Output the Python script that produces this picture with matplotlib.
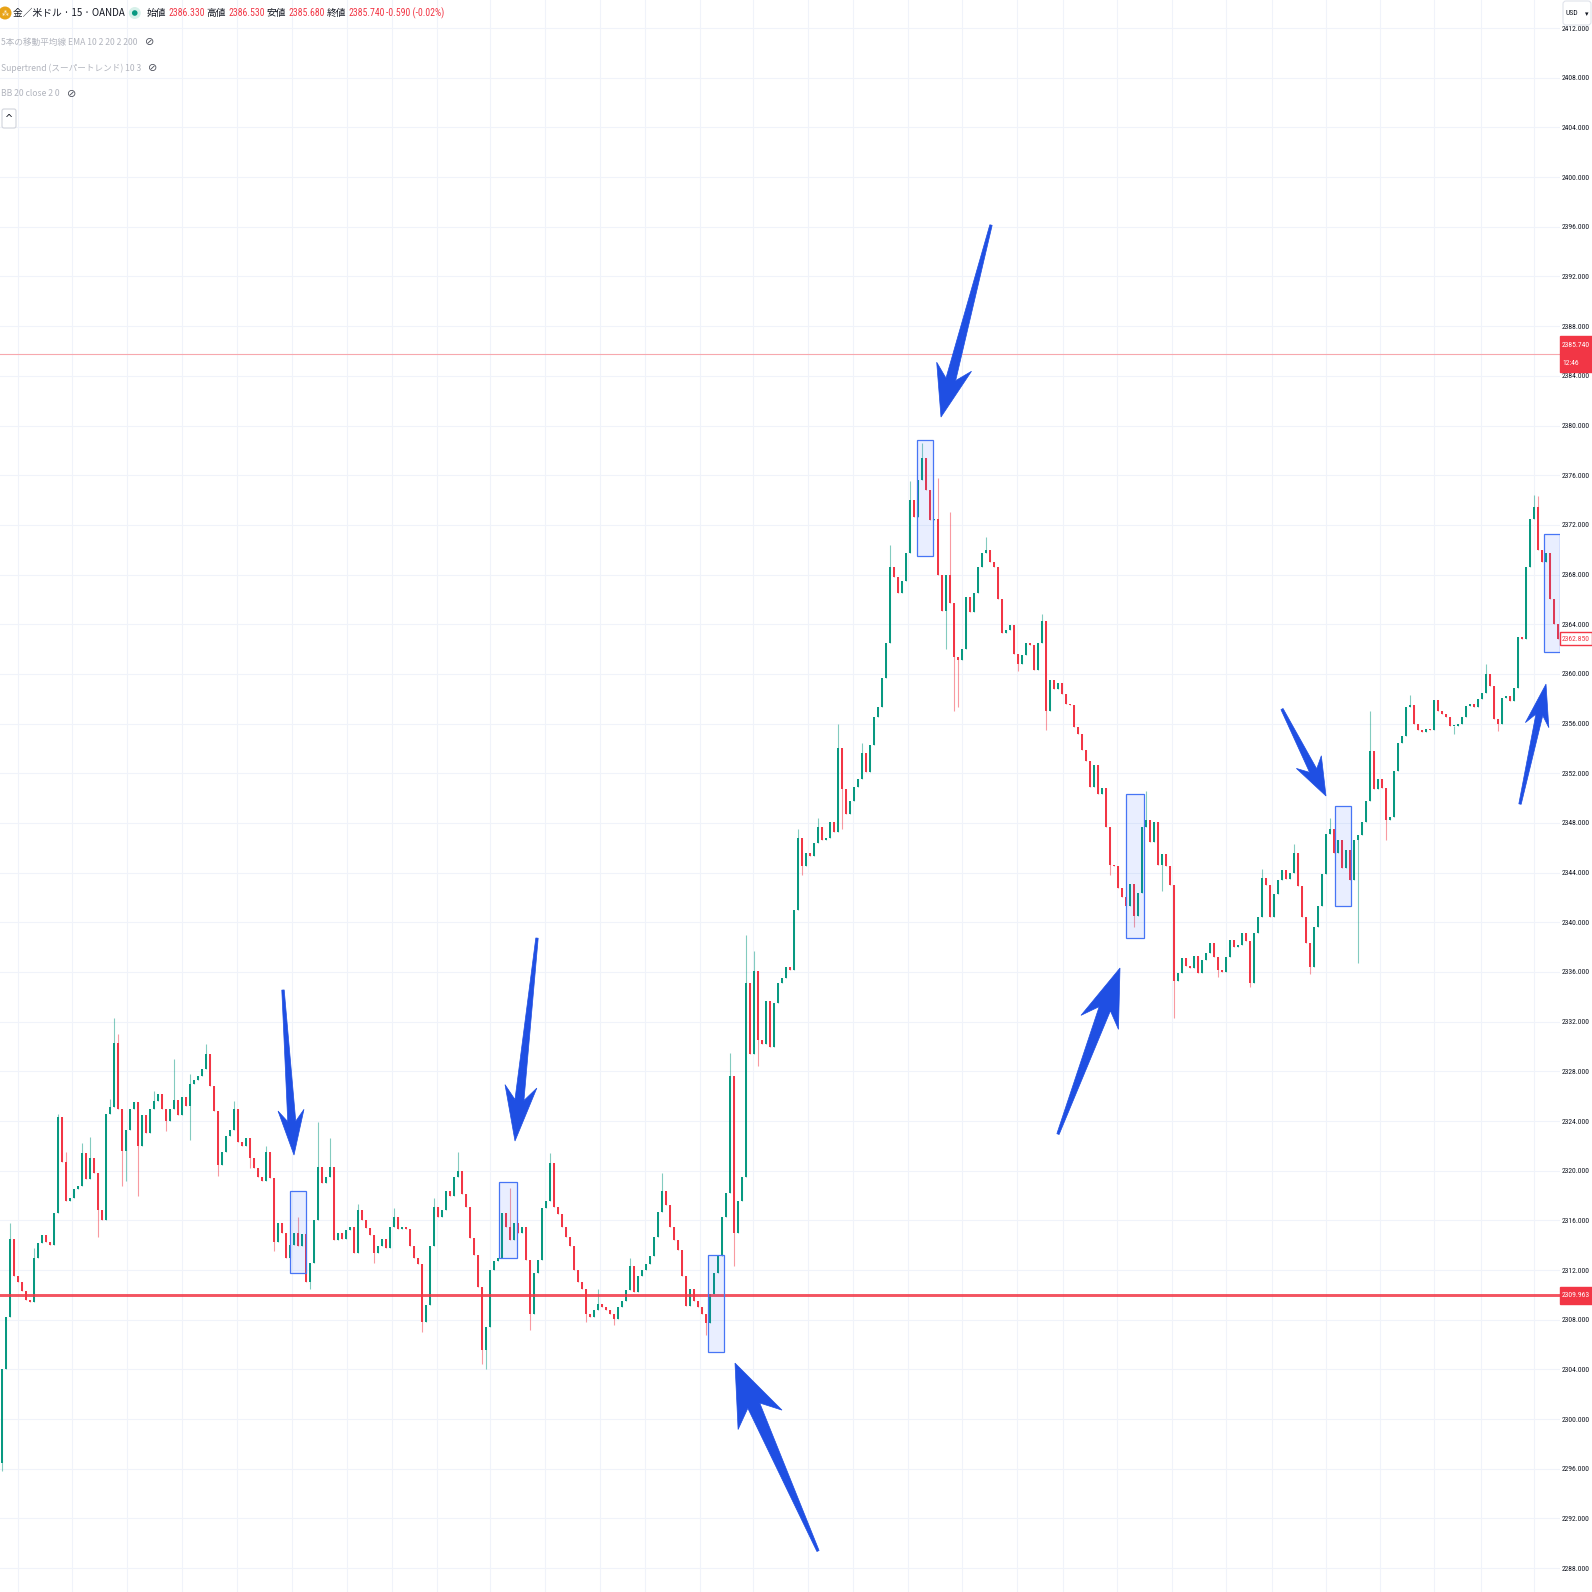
import matplotlib
matplotlib.use("Agg")
import numpy as np
import matplotlib.pyplot as plt
from matplotlib import font_manager
from matplotlib.patches import Rectangle, Polygon, Circle, FancyBboxPatch

# -------------------------------------------------------------------
# DATA (15-minute XAU/USD candles)
# -------------------------------------------------------------------
first_open = 2296.5
closes = [
    2304.0, 2308.2, 2314.5, 2311.5, 2311.0, 2310.3, 2309.6, 2309.4, 2313.0, 2314.2,
    2314.8, 2314.3, 2314.0, 2316.6, 2324.3, 2320.7, 2317.6, 2317.8, 2318.5, 2318.8,
    2321.4, 2319.3, 2321.0, 2319.8, 2316.8, 2316.0, 2324.6, 2325.1, 2330.3, 2325.0,
    2321.6, 2323.3, 2325.0, 2325.5, 2322.0, 2324.5, 2323.0, 2325.0, 2325.6, 2326.2,
    2325.0, 2324.0, 2325.0, 2325.7, 2324.5, 2325.9, 2325.2, 2327.0, 2327.3, 2327.6,
    2328.2, 2329.4, 2326.8, 2324.8, 2320.5, 2321.5, 2322.8, 2323.3, 2325.0, 2322.3,
    2322.0, 2322.6, 2321.0, 2320.2, 2319.5, 2319.2, 2321.5, 2319.4, 2314.3, 2315.8,
    2315.0, 2313.0, 2314.0, 2315.0, 2313.9, 2314.9, 2311.0, 2312.6, 2316.0, 2320.3,
    2319.0, 2319.5, 2320.3, 2314.4, 2315.0, 2314.5, 2315.2, 2315.5, 2313.4, 2316.8,
    2316.0, 2315.4, 2314.8, 2313.4, 2313.9, 2314.5, 2313.8, 2315.5, 2316.3, 2315.3,
    2315.5, 2315.3, 2313.9, 2313.0, 2312.5, 2307.8, 2309.2, 2313.9, 2317.1, 2316.3,
    2316.8, 2318.4, 2318.0, 2319.5, 2320.0, 2318.1, 2317.1, 2314.6, 2313.2, 2310.6,
    2305.6, 2307.4, 2312.0, 2312.7, 2313.0, 2316.6, 2315.5, 2314.4, 2315.8, 2315.0,
    2315.5, 2312.8, 2308.5, 2311.8, 2312.8, 2317.0, 2317.6, 2320.6, 2317.1, 2316.5,
    2315.5, 2314.7, 2313.9, 2312.0, 2311.0, 2310.5, 2308.5, 2308.2, 2308.8, 2309.3,
    2309.0, 2308.8, 2308.5, 2308.1, 2309.0, 2309.5, 2310.4, 2312.3, 2310.2, 2311.5,
    2312.0, 2312.5, 2313.1, 2314.7, 2316.7, 2318.4, 2317.2, 2315.5, 2314.4, 2313.6,
    2311.5, 2309.1, 2310.5, 2309.5, 2309.0, 2308.5, 2307.7, 2310.1, 2311.8, 2313.1,
    2316.3, 2318.2, 2327.6, 2315.0, 2317.6, 2319.5, 2335.1, 2329.4, 2336.1, 2330.5,
    2330.2, 2333.7, 2330.0, 2333.5, 2335.1, 2335.5, 2336.4, 2336.2, 2341.0, 2346.8,
    2344.5, 2345.6, 2345.3, 2346.4, 2347.7, 2346.6, 2346.8, 2348.1, 2347.3, 2354.0,
    2350.7, 2348.7, 2349.8, 2350.9, 2351.5, 2353.6, 2352.1, 2354.3, 2356.5, 2357.3,
    2359.7, 2362.5, 2368.6, 2367.8, 2366.5, 2367.5, 2369.7, 2374.0, 2372.6, 2375.6,
    2377.4, 2374.8, 2372.4, 2372.5, 2368.0, 2365.1, 2368.0, 2365.7, 2361.4, 2361.1,
    2362.0, 2366.2, 2365.0, 2366.5, 2368.6, 2369.7, 2370.0, 2369.0, 2368.6, 2366.0,
    2363.3, 2363.5, 2363.9, 2361.6, 2360.8, 2361.5, 2362.5, 2362.3, 2360.3, 2362.5,
    2364.3, 2357.0, 2359.5, 2358.8, 2359.3, 2358.4, 2357.6, 2357.5, 2355.7, 2355.2,
    2353.9, 2353.0, 2350.9, 2352.7, 2350.3, 2350.8, 2347.7, 2344.6, 2344.5, 2342.8,
    2342.0, 2341.3, 2343.1, 2340.5, 2342.4, 2347.7, 2348.2, 2346.5, 2348.1, 2344.6,
    2345.5, 2344.5, 2343.0, 2335.3, 2335.9, 2337.1, 2336.5, 2336.3, 2337.3, 2335.9,
    2337.0, 2337.5, 2338.3, 2337.2, 2336.2, 2336.0, 2337.2, 2338.6, 2338.0, 2338.2,
    2339.1, 2338.5, 2335.1, 2339.1, 2340.4, 2343.6, 2343.0, 2340.4, 2342.3, 2343.4,
    2344.2, 2343.5, 2344.0, 2345.6, 2342.9, 2340.4, 2338.3, 2336.4, 2339.6, 2341.3,
    2343.9, 2347.1, 2347.5, 2345.6, 2346.6, 2344.4, 2345.8, 2343.4, 2346.6, 2347.0,
    2348.1, 2349.8, 2353.8, 2350.7, 2351.5, 2350.8, 2348.2, 2348.5, 2352.2, 2354.4,
    2355.0, 2357.3, 2357.5, 2356.0, 2355.5, 2355.3, 2355.6, 2355.5, 2357.9, 2357.0,
    2356.8, 2356.5, 2355.8, 2355.8, 2356.0, 2356.5, 2357.4, 2357.6, 2357.3, 2358.0,
    2358.5, 2360.0, 2359.0, 2356.4, 2356.0, 2358.1, 2358.2, 2357.8, 2358.9, 2363.0,
    2362.8, 2368.6, 2372.5, 2373.4, 2370.0, 2369.0, 2369.7, 2366.0, 2364.0, 2362.85,
]

# visible wick extremes (candle index -> price)
wick_highs = {2: 2315.8, 8: 2313.8, 14: 2324.6, 16: 2321.5, 20: 2322.2, 22: 2322.7,
              27: 2325.8, 28: 2332.3, 29: 2331.0, 38: 2326.4, 43: 2329.0, 47: 2327.8,
              51: 2330.2, 58: 2325.6, 66: 2322.0, 74: 2316.3, 79: 2323.9, 82: 2322.6,
              89: 2317.3, 98: 2317.0, 108: 2317.8, 114: 2321.5, 127: 2318.6,
              137: 2321.4, 149: 2310.5, 157: 2313.0, 165: 2319.8, 182: 2329.5,
              186: 2339.0, 188: 2337.7, 199: 2347.5, 204: 2348.4, 209: 2356.0,
              215: 2354.4, 222: 2370.4, 227: 2375.5, 230: 2378.6, 234: 2375.8,
              237: 2373.0, 246: 2371.0, 260: 2364.8, 286: 2350.6, 315: 2344.3,
              323: 2346.3, 332: 2348.4, 342: 2357.0, 352: 2358.3, 371: 2360.8,
              383: 2374.4, 384: 2374.3}
wick_lows = {0: 2295.8, 24: 2314.7, 30: 2318.8, 31: 2319.2, 34: 2318.0, 41: 2323.2,
             47: 2322.5, 54: 2319.6, 62: 2320.2, 68: 2313.5, 77: 2310.5, 93: 2312.6,
             105: 2307.0, 120: 2304.4, 121: 2304.0, 132: 2307.2, 146: 2307.8,
             153: 2307.6, 176: 2306.8, 183: 2312.3, 189: 2328.4, 200: 2343.8,
             210: 2347.5, 236: 2362.0, 238: 2357.0, 239: 2357.3, 254: 2360.2,
             261: 2355.5, 277: 2343.8, 283: 2339.6, 290: 2342.5, 293: 2332.3,
             304: 2335.6, 312: 2334.8, 327: 2335.8, 339: 2336.7, 346: 2346.6,
             363: 2355.2, 374: 2355.4}

price_ticks = list(range(2288, 2416, 4))
support_level = 2309.963
current_price = 2385.740
current_time = "12:46"
last_close = 2362.850

# highlighted boxes (candle index range, price range)
box_x0 = [72.0, 124.3, 176.5, 228.75, 281.0, 333.25, 385.5]
box_x1 = [76.0, 128.8, 180.5, 232.75, 285.5, 337.25, 389.5]
box_lo = [2311.8, 2313.0, 2305.4, 2369.5, 2338.7, 2341.3, 2361.8]
box_hi = [2318.4, 2319.1, 2313.2, 2378.8, 2350.3, 2349.4, 2371.3]

# hand-drawn arrows: tail -> tip (candle index, price)
arrow_tail_x = [70.25, 133.75, 204.0, 247.25, 264.0, 320.0, 379.5]
arrow_tail_y = [2334.55, 2338.73, 2289.38, 2396.14, 2322.95, 2357.17, 2349.52]
arrow_tip_x = [73.0, 128.25, 183.25, 234.75, 279.5, 331.0, 386.0]
arrow_tip_y = [2321.26, 2322.39, 2304.51, 2380.68, 2336.32, 2350.17, 2359.18]
# head length, head half width, shaft half width (pixels)
arrow_sizes = [(45, 13, 4), (55, 16, 4.5), (62, 24, 6.5), (52, 18, 5),
               (58, 20, 6), (38, 14, 4), (42, 12, 3.5)]

# time grid lines (candle index)
vgrid = [4, 17.5, 31.25, 45, 58.75, 72.5, 86.25, 97.5, 108.75, 122, 135.75, 149.5,
         160.75, 174.5, 187.75, 201.5, 212.75, 226.5, 240, 253.75, 265.25, 278.75,
         292.5, 306, 317.5, 331, 344.5, 358, 369.75, 383]

# -------------------------------------------------------------------
# STYLE
# -------------------------------------------------------------------
UP = "#089981"
DOWN = "#F23645"
BLUE = "#1f4fe3"
GRID = "#f0f3fa"
TEXT = "#131722"

names = {f.name for f in font_manager.fontManager.ttflist}
NARROW = next((n for n in ["Liberation Sans Narrow", "DejaVu Sans Condensed",
                           "Roboto Condensed", "Liberation Sans"] if n in names),
              "DejaVu Sans")
plt.rcParams["font.family"] = ["Noto Sans CJK JP", "DejaVu Sans"]

W = H = 1592
fig = plt.figure(figsize=(W / 100, H / 100), dpi=100)
fig.patch.set_facecolor("white")
renderer = fig.canvas.get_renderer()

# font size that makes "2408.000" about 28 px wide
probe = fig.text(0, 0, "2408.000", fontsize=10, family=NARROW)
AX_FS = min(7.0, 10 * 28 / probe.get_window_extent(renderer).width)
probe.remove()

ax = fig.add_axes([0, 0, 1560 / W, 1])
ax.set_xlim(-0.5, 389.5)
ax.set_ylim(2286.08, 2414.26)
for s in ax.spines.values():
    s.set_visible(False)
ax.set_xticks([])

# grid
for p in price_ticks:
    ax.axhline(p, color=GRID, lw=0.8, zorder=0)
for g in vgrid:
    ax.axvline(g, color=GRID, lw=0.8, zorder=0)

# -------------------------------------------------------------------
# CANDLES
# -------------------------------------------------------------------
c = np.array(closes)
o = np.array([first_open] + closes[:-1])
idx = np.arange(len(c))
up = c >= o
cols = np.where(up, UP, DOWN)
hi = np.maximum(o, c)
lo = np.minimum(o, c)
for k, v in wick_highs.items():
    hi[k] = v
for k, v in wick_lows.items():
    lo[k] = v

ax.vlines(idx, lo, hi, colors=cols, lw=0.8, alpha=0.5, zorder=2)
body = np.maximum(np.abs(c - o), 0.08)
ax.bar(idx, body, bottom=np.minimum(o, c), width=0.62, color=cols, lw=0, zorder=3)

# support line and current price line
ax.axhline(support_level, color=DOWN, lw=2.1, alpha=0.85, zorder=4)
ax.axhline(current_price, color="#f7a8ae", lw=0.8, zorder=1)

# boxes
for x0, x1, y0, y1 in zip(box_x0, box_x1, box_lo, box_hi):
    ax.add_patch(Rectangle((x0, y0), x1 - x0, y1 - y0, facecolor="#2962ff", alpha=0.1,
                           lw=0, zorder=5))
    ax.add_patch(Rectangle((x0, y0), x1 - x0, y1 - y0, facecolor="none",
                           edgecolor="#4775f5", lw=0.9, zorder=5))

# price scale on the right
ax.yaxis.tick_right()
ax.set_yticks(price_ticks)
ax.set_yticklabels([f"{p:.3f}" for p in price_ticks], fontsize=AX_FS, color=TEXT,
                   family=NARROW)
ax.tick_params(axis="y", length=0, pad=1.5)

# -------------------------------------------------------------------
# OVERLAY (pixel coordinates, y down)
# -------------------------------------------------------------------
ov = fig.add_axes([0, 0, 1, 1], zorder=10)
ov.set_xlim(0, W)
ov.set_ylim(H, 0)
ov.axis("off")


def to_px(x, y):
    dx, dy = ax.transData.transform((x, y))
    return dx, H - dy


def arrow_poly(tail, tip, head_len, head_w, shaft_w):
    tx, ty = tail
    px, py = tip
    dx, dy = px - tx, py - ty
    L = np.hypot(dx, dy)
    dx, dy = dx / L, dy / L
    nx, ny = -dy, dx
    hx, hy = px - dx * head_len, py - dy * head_len
    jx, jy = hx + dx * head_len * 0.25, hy + dy * head_len * 0.25
    return [(tx + nx * 1.2, ty + ny * 1.2), (jx + nx * shaft_w, jy + ny * shaft_w),
            (hx + nx * head_w, hy + ny * head_w), (px, py),
            (hx - nx * head_w, hy - ny * head_w), (jx - nx * shaft_w, jy - ny * shaft_w),
            (tx - nx * 1.2, ty - ny * 1.2)]


for i in range(len(arrow_tail_x)):
    t = to_px(arrow_tail_x[i], arrow_tail_y[i])
    p = to_px(arrow_tip_x[i], arrow_tip_y[i])
    hl, hw, sw = arrow_sizes[i]
    ov.add_patch(Polygon(arrow_poly(t, p, hl, hw, sw), closed=True, facecolor=BLUE,
                         edgecolor=BLUE, lw=0.5))

# price labels on the axis
ax_right = 1560


def price_tag(price, lines, face, txt, edge=None, height=16):
    _, y = to_px(0, price)
    ov.add_patch(Rectangle((ax_right, y - height / 2), W - ax_right, height,
                           facecolor=face, edgecolor=edge or face, lw=1, zorder=11))
    n = len(lines)
    for k, s in enumerate(lines):
        yy = y + (k - (n - 1) / 2) * (height / n)
        ov.text(ax_right + 2, yy, s, fontsize=AX_FS, color=txt, va="center", ha="left",
                family=NARROW, zorder=12)


price_tag(current_price, [f"{current_price:.3f}", current_time], DOWN, "white", height=36)
price_tag(support_level, [f"{support_level:.3f}"], DOWN, "white", height=17)
price_tag(last_close, [f"{last_close:.3f}"], "white", DOWN, edge=DOWN, height=13)

# currency box
ov.add_patch(FancyBboxPatch((1563, 1), 28, 24, boxstyle="round,pad=0,rounding_size=3",
                            facecolor="white", edgecolor="#e0e3eb", lw=0.8, zorder=11))
ov.text(1566, 13, "USD", fontsize=AX_FS, color=TEXT, va="center", family=NARROW,
        zorder=12)
ov.text(1585, 14, "▾", fontsize=5, color=TEXT, va="center", family="DejaVu Sans",
        zorder=12)


# header legend
def flow(x, y, parts, size, gap=3):
    for s, col, fam in parts:
        t = ov.text(x, y, s, fontsize=size, color=col, va="center", ha="left", family=fam)
        x += t.get_window_extent(renderer).width + gap
    return x


ov.add_patch(Circle((5, 13), 6.5, facecolor="#e8a317", edgecolor="none"))
ov.text(5, 13.5, "⁂", fontsize=5, color="white", ha="center", va="center",
        family="DejaVu Sans")
CJK = ["Noto Sans CJK JP", "DejaVu Sans"]
xe = flow(13, 13, [("金／米ドル · 15 · OANDA", TEXT, CJK)], 7.0)
ov.add_patch(Circle((xe + 7, 13), 6, facecolor="#d7f1ea", edgecolor="none"))
ov.add_patch(Circle((xe + 7, 13), 2.8, facecolor=UP, edgecolor="none"))
flow(xe + 19, 13, [("始値", TEXT, CJK), ("2386.330", DOWN, NARROW),
                   ("高値", TEXT, CJK), ("2386.530", DOWN, NARROW),
                   ("安値", TEXT, CJK), ("2385.680", DOWN, NARROW),
                   ("終値", TEXT, CJK), ("2385.740", DOWN, NARROW),
                   ("-0.590 (-0.02%)", DOWN, NARROW)], 7.0, gap=2)

GRAY = "#b2b5be"
for yy, label in [(42, "5本の移動平均線 EMA 10 2 20 2 200"),
                  (68, "Supertrend (スーパートレンド) 10 3"),
                  (94, "BB 20 close 2 0")]:
    xe = flow(1, yy, [(label, GRAY, CJK)], 6.2)
    ov.text(xe + 4, yy, "⊘", fontsize=8, color="#50535e", va="center",
            family="DejaVu Sans")

ov.add_patch(FancyBboxPatch((2, 109), 14, 19, boxstyle="round,pad=0,rounding_size=2",
                            facecolor="white", edgecolor="#d1d4dc", lw=0.8))
ov.text(9, 119, "^", fontsize=7, color=TEXT, ha="center", va="center",
        family="DejaVu Sans")

fig.savefig("out.png", dpi=100, facecolor="white")
